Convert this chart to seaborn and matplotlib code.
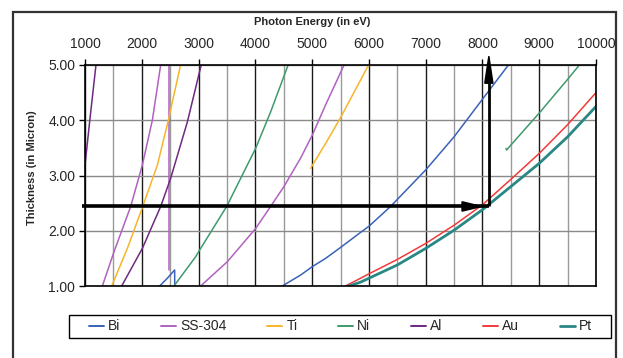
import matplotlib
matplotlib.use("Agg")
import matplotlib.pyplot as plt
import numpy as np
import pandas as pd
import seaborn as sns
from matplotlib.lines import Line2D
from matplotlib.patches import Rectangle
from matplotlib.ticker import FormatStrFormatter

# ---------------- data ----------------
materials = ["Bi", "SS-304", "Ti", "Ni", "Al", "Au", "Pt"]
palette = {"Bi": "#3a62b8", "SS-304": "#b062c0", "Ti": "#f7b52a", "Ni": "#3e9a6c",
           "Al": "#6e2a80", "Au": "#f23a3a", "Pt": "#2a8884"}

bi_e1 = [2315, 2450, 2579, 2581]
bi_t1 = [1.00, 1.14, 1.29, 0.90]
bi_e2 = [4475, 4800, 5003, 5238, 5504, 5853, 6000, 6382, 7000, 7500, 8000, 8465]
bi_t2 = [1.00, 1.20, 1.35, 1.50, 1.70, 1.97, 2.08, 2.44, 3.10, 3.70, 4.38, 5.01]

ss_e1 = [1306, 1511, 1805, 2010, 2186, 2333, 2360]
ss_t1 = [1.00, 1.62, 2.44, 3.19, 4.00, 5.00, 5.15]
ss_e2 = [2479, 2479]
ss_t2 = [5.30, 1.29]
ss_e3 = [3037, 3507, 4005, 4269, 4504, 4800, 5003, 5238, 5563, 5600]
ss_t3 = [1.00, 1.44, 2.04, 2.44, 2.80, 3.32, 3.73, 4.28, 5.00, 5.08]

ti_e1 = [1470, 1746, 2010, 2275, 2461, 2685]
ti_t1 = [1.00, 1.68, 2.42, 3.19, 3.97, 5.01]
ti_e2 = [4973, 5238, 5502, 6000]
ti_t2 = [3.13, 3.58, 4.05, 5.01]

ni_e1 = [2567, 2949, 3007, 3495, 4005, 4269, 4581]
ni_t1 = [1.00, 1.53, 1.63, 2.44, 3.49, 4.15, 5.01]
ni_e2 = [8415, 8425, 8500, 9000, 9500, 9715]
ni_t2 = [3.49, 3.46, 3.55, 4.13, 4.74, 5.01]

al_e1 = [1000, 1090, 1194]
al_t1 = [3.19, 4.05, 5.01]
al_e2 = [1646, 2010, 2333, 2509, 2803, 3049]
al_t2 = [1.00, 1.68, 2.44, 2.95, 3.97, 5.01]

au_e = [5588, 5853, 6000, 6500, 7000, 7500, 8000, 8500, 9000, 9500, 10000]
au_t = [1.00, 1.14, 1.22, 1.48, 1.77, 2.10, 2.47, 2.93, 3.40, 3.92, 4.50]

pt_e = [5650, 5853, 6000, 6500, 7000, 7500, 8000, 8500, 9000, 9500, 10000]
pt_t = [1.00, 1.07, 1.14, 1.38, 1.68, 2.01, 2.38, 2.80, 3.22, 3.70, 4.25]

x_ticks = [1000, 2000, 3000, 4000, 5000, 6000, 7000, 8000, 9000, 10000]
y_ticks = [1.0, 2.0, 3.0, 4.0, 5.0]

arrow_energy = 8113
arrow_thickness = 2.44

segments = [
    ("Bi", bi_e1, bi_t1), ("Bi", bi_e2, bi_t2),
    ("SS-304", ss_e1, ss_t1), ("SS-304", ss_e2, ss_t2), ("SS-304", ss_e3, ss_t3),
    ("Ti", ti_e1, ti_t1), ("Ti", ti_e2, ti_t2),
    ("Ni", ni_e1, ni_t1), ("Ni", ni_e2, ni_t2),
    ("Al", al_e1, al_t1), ("Al", al_e2, al_t2),
    ("Au", au_e, au_t), ("Pt", pt_e, pt_t),
]
rows = []
for i, (mat, E, T) in enumerate(segments):
    for e, t in zip(E, T):
        rows.append((mat, f"{mat}-{i}", e, t))
df = pd.DataFrame(rows, columns=["material", "segment", "energy", "thickness"])

# ---------------- figure ----------------
sns.set_theme(style="white")
plt.rcParams["font.family"] = ["Liberation Sans", "DejaVu Sans"]

W, H = 623, 358
fig = plt.figure(figsize=(W / 100, H / 100), dpi=100)
L, R, T_, B = 85, 596, 65, 286
ax = fig.add_axes([L / W, 1 - B / H, (R - L) / W, (B - T_) / H])

thin = df[df.material != "Pt"]
sns.lineplot(data=thin, x="energy", y="thickness", hue="material", units="segment",
             estimator=None, sort=False, palette=palette, linewidth=1.1,
             legend=False, ax=ax)
sns.lineplot(data=df[df.material == "Pt"], x="energy", y="thickness", hue="material",
             units="segment", estimator=None, sort=False, palette=palette,
             linewidth=2.0, legend=False, ax=ax)

ax.set_xlim(1000, 10000)
ax.set_ylim(1, 5)
ax.set_xticks(x_ticks)
ax.set_xticks([v + 500 for v in x_ticks[:-1]], minor=True)
ax.set_yticks(y_ticks)
ax.yaxis.set_major_formatter(FormatStrFormatter("%.2f"))
ax.xaxis.tick_top()
ax.xaxis.set_label_position("top")
ax.tick_params(axis="x", which="major", direction="out", length=4, width=1,
               color="black", labelsize=10, pad=6, top=True, bottom=False)
ax.tick_params(axis="x", which="minor", length=0)
ax.tick_params(axis="y", which="major", direction="out", length=4, width=1,
               color="black", labelsize=10, pad=3, left=True)
ax.grid(False)
ax.grid(True, which="major", axis="x", color="#1a1a1a", linewidth=1.0)
ax.grid(True, which="minor", axis="x", color="#9a9a9a", linewidth=1.0)
ax.grid(True, which="major", axis="y", color="#8a8a8a", linewidth=1.0)
ax.set_axisbelow(True)
for s in ax.spines.values():
    s.set_color("black")
    s.set_linewidth(1.2)

ax.set_xlabel("Photon Energy (in eV)", fontsize=8, fontweight="bold")
ax.xaxis.label.set_va("center")
ax.xaxis.set_label_coords((312 - L) / (R - L), (B - 22) / (B - T_))
ax.set_ylabel("Thickness (in Micron)", fontsize=8, fontweight="bold")
ax.yaxis.label.set_va("center")
ax.yaxis.set_label_coords((32 - L) / (R - L), (B - 168) / (B - T_))

# arrows (annotation)
ax.plot([947, arrow_energy], [arrow_thickness, arrow_thickness], color="black",
        lw=2.6, solid_capstyle="butt", clip_on=False, zorder=5)
ax.fill([7640, 7985, 7640], [arrow_thickness + 0.085, arrow_thickness, arrow_thickness - 0.085],
        color="black", clip_on=False, zorder=6)
ax.plot([arrow_energy, arrow_energy], [arrow_thickness, 4.75], color="black",
        lw=2.0, solid_capstyle="butt", clip_on=False, zorder=5)
ax.fill([arrow_energy - 72, arrow_energy, arrow_energy + 72], [4.67, 5.16, 4.67],
        color="black", clip_on=False, zorder=6)

# outer chart-area frame
fig.add_artist(Rectangle((13 / W, -0.1), (616 - 13) / W, (1 - 12 / H) + 0.1,
                         transform=fig.transFigure, fill=False,
                         edgecolor="#333333", linewidth=1.6))

# legend frame + entries
fig.add_artist(Rectangle((69 / W, 1 - 338 / H), (611 - 69) / W, 23 / H,
                         transform=fig.transFigure, fill=False,
                         edgecolor="black", linewidth=1.0))
handles = [Line2D([], [], color=palette[m], lw=2.0 if m == "Pt" else 1.4) for m in materials]
leg = fig.legend(handles, materials, loc="center",
                 bbox_to_anchor=(340.5 / W, 1 - 326.5 / H),
                 ncol=7, frameon=False, fontsize=10, handlelength=1.1,
                 handletextpad=0.3, borderaxespad=0, borderpad=0,
                 columnspacing=2.9)

fig.savefig("out.png", dpi=100)
